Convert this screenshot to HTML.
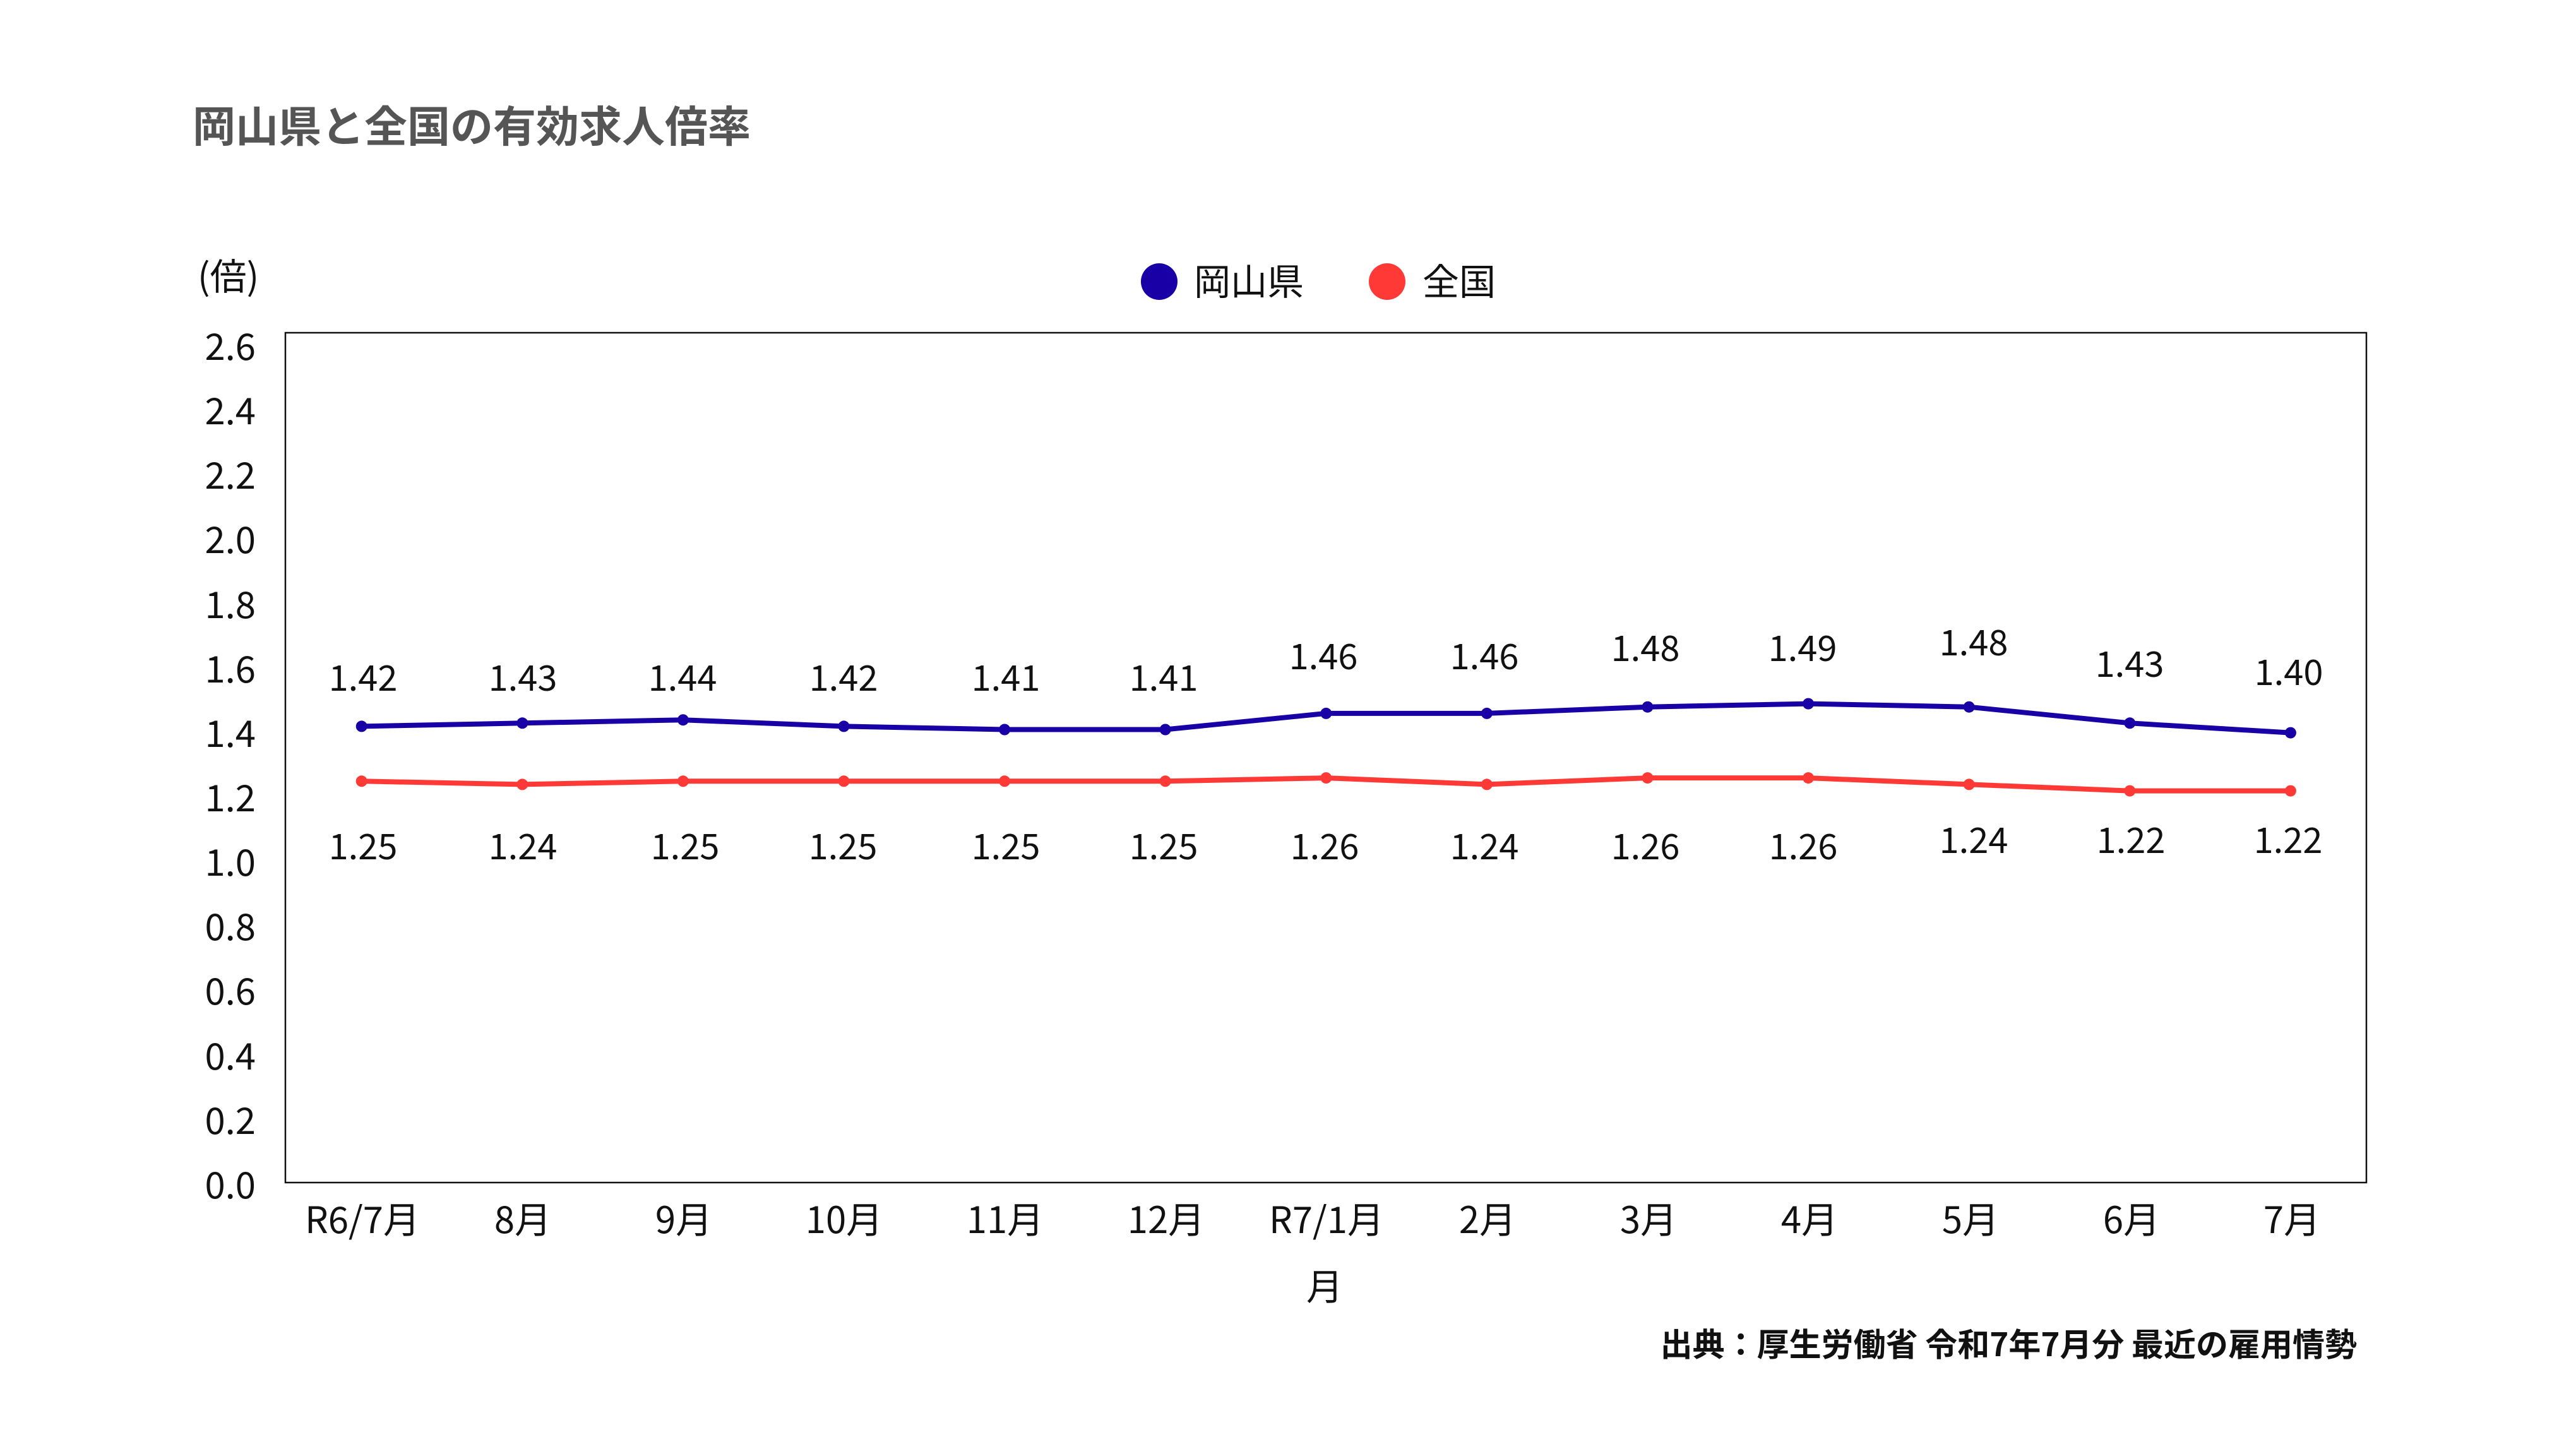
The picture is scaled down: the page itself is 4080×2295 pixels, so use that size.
<!DOCTYPE html>
<html><head><meta charset="utf-8"><style>
html,body{margin:0;padding:0;background:#fff;}
svg{display:block;}
text{font-family:"Noto Sans CJK JP","Liberation Sans","Noto Sans CJK SC",sans-serif;}
</style></head><body>
<svg width="4080" height="2295" viewBox="0 0 4080 2295" xmlns="http://www.w3.org/2000/svg">
<rect width="4080" height="2295" fill="#fff"/>
<text x="305" y="225" font-size="68" font-weight="700" fill="#555555">岡山県と全国の有効求人倍率</text>
<text x="313" y="459" font-size="58" fill="#111">(倍)</text>
<circle cx="1836" cy="446" r="29" fill="#1900a6"/>
<text x="1891" y="467" font-size="58" fill="#111">岡山県</text>
<circle cx="2197" cy="446" r="29" fill="#ff3a36"/>
<text x="2253" y="467" font-size="58" fill="#111">全国</text>
<rect x="452" y="527" width="3296" height="1346" fill="none" stroke="#111" stroke-width="2.5"/>
<g font-size="58" fill="#111" text-anchor="end">
<text x="405" y="570">2.6</text>
<text x="405" y="672">2.4</text>
<text x="405" y="774">2.2</text>
<text x="405" y="876">2.0</text>
<text x="405" y="979">1.8</text>
<text x="405" y="1081">1.6</text>
<text x="405" y="1183">1.4</text>
<text x="405" y="1285">1.2</text>
<text x="405" y="1387">1.0</text>
<text x="405" y="1489">0.8</text>
<text x="405" y="1591">0.6</text>
<text x="405" y="1694">0.4</text>
<text x="405" y="1796">0.2</text>
<text x="405" y="1898">0.0</text>
</g>
<g font-size="58" fill="#111" text-anchor="middle">
<text x="574" y="1953">R6/7月</text>
<text x="828" y="1953">8月</text>
<text x="1083" y="1953">9月</text>
<text x="1337" y="1953">10月</text>
<text x="1592" y="1953">11月</text>
<text x="1847" y="1953">12月</text>
<text x="2101" y="1953">R7/1月</text>
<text x="2356" y="1953">2月</text>
<text x="2611" y="1953">3月</text>
<text x="2866" y="1953">4月</text>
<text x="3121" y="1953">5月</text>
<text x="3376" y="1953">6月</text>
<text x="3630" y="1953">7月</text>
<text x="2098" y="2059">月</text>
</g>
<!-- red series -->
<polyline fill="none" stroke="#ff3a36" stroke-width="8" stroke-linejoin="round"
points="572.7,1237.3 827.3,1242.4 1081.9,1237.3 1336.5,1237.3 1591.1,1237.3 1845.7,1237.3 2100.3,1232.1 2354.9,1242.4 2609.5,1232.1 2864.1,1232.1 3118.7,1242.4 3373.3,1252.6 3627.9,1252.6"/>
<g fill="#ff3a36">
<circle cx="572.7" cy="1237.3" r="9"/><circle cx="827.3" cy="1242.4" r="9"/><circle cx="1081.9" cy="1237.3" r="9"/><circle cx="1336.5" cy="1237.3" r="9"/><circle cx="1591.1" cy="1237.3" r="9"/><circle cx="1845.7" cy="1237.3" r="9"/><circle cx="2100.3" cy="1232.1" r="9"/><circle cx="2354.9" cy="1242.4" r="9"/><circle cx="2609.5" cy="1232.1" r="9"/><circle cx="2864.1" cy="1232.1" r="9"/><circle cx="3118.7" cy="1242.4" r="9"/><circle cx="3373.3" cy="1252.6" r="9"/><circle cx="3627.9" cy="1252.6" r="9"/>
</g>
<!-- blue series -->
<polyline fill="none" stroke="#1900a6" stroke-width="8" stroke-linejoin="round"
points="572.7,1150.4 827.3,1145.3 1081.9,1140.2 1336.5,1150.4 1591.1,1155.5 1845.7,1155.5 2100.3,1129.9 2354.9,1129.9 2609.5,1119.7 2864.1,1114.6 3118.7,1119.7 3373.3,1145.3 3627.9,1160.6"/>
<g fill="#1900a6">
<circle cx="572.7" cy="1150.4" r="9"/><circle cx="827.3" cy="1145.3" r="9"/><circle cx="1081.9" cy="1140.2" r="9"/><circle cx="1336.5" cy="1150.4" r="9"/><circle cx="1591.1" cy="1155.5" r="9"/><circle cx="1845.7" cy="1155.5" r="9"/><circle cx="2100.3" cy="1129.9" r="9"/><circle cx="2354.9" cy="1129.9" r="9"/><circle cx="2609.5" cy="1119.7" r="9"/><circle cx="2864.1" cy="1114.6" r="9"/><circle cx="3118.7" cy="1119.7" r="9"/><circle cx="3373.3" cy="1145.3" r="9"/><circle cx="3627.9" cy="1160.6" r="9"/>
</g>
<g font-size="56" fill="#111" text-anchor="middle">
<text x="575" y="1094">1.42</text>
<text x="828" y="1094">1.43</text>
<text x="1081" y="1094">1.44</text>
<text x="1336" y="1094">1.42</text>
<text x="1593" y="1094">1.41</text>
<text x="1843" y="1094">1.41</text>
<text x="2096" y="1060">1.46</text>
<text x="2351" y="1060">1.46</text>
<text x="2606" y="1047">1.48</text>
<text x="2855" y="1047">1.49</text>
<text x="3126" y="1038">1.48</text>
<text x="3373" y="1072">1.43</text>
<text x="3625" y="1085">1.40</text>
<text x="575" y="1361">1.25</text>
<text x="828" y="1361">1.24</text>
<text x="1085" y="1361">1.25</text>
<text x="1335" y="1361">1.25</text>
<text x="1593" y="1361">1.25</text>
<text x="1843" y="1361">1.25</text>
<text x="2098" y="1361">1.26</text>
<text x="2351" y="1361">1.24</text>
<text x="2606" y="1361">1.26</text>
<text x="2856" y="1361">1.26</text>
<text x="3126" y="1351">1.24</text>
<text x="3375" y="1351">1.22</text>
<text x="3624" y="1351">1.22</text>
</g>
<text x="3733" y="2148" font-size="51" font-weight="700" fill="#111" text-anchor="end">出典：厚生労働省 令和7年7月分 最近の雇用情勢</text>
</svg>
</body></html>
